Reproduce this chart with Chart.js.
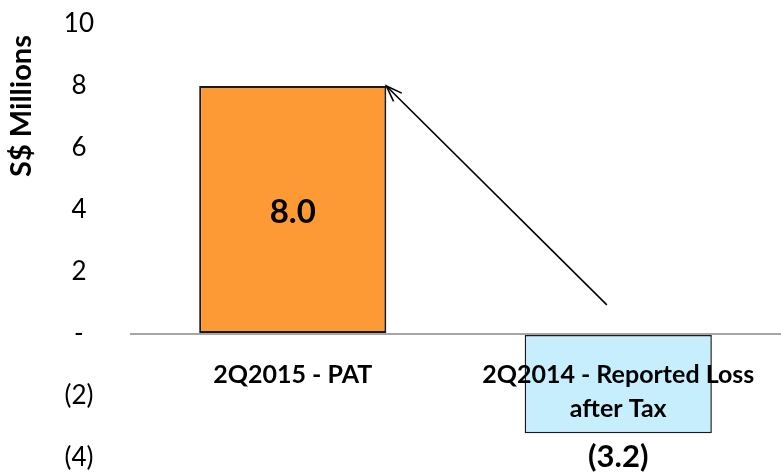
<!DOCTYPE html>
<html>
<head>
<meta charset="utf-8">
<script src="https://cdn.jsdelivr.net/npm/chart.js@4"></script>
<style>
  html, body { margin: 0; padding: 0; background: #ffffff; }
  #wrap { width: 781px; height: 475px; position: relative; }
</style>
</head>
<body>
<div id="wrap"><canvas id="chart"></canvas></div>
<script>
const CATEGORIES = [["2Q2015 - PAT"], ["2Q2014 - Reported Loss", "after Tax"]];
const VALUES = [8.0, -3.2];
const VALUE_LABELS = ["8.0", "(3.2)"];
const BAR_COLORS = ["#fd9a36", "#c6eefd"];
const Y_MIN = -4;
const Y_MAX = 10;
const Y_STEP = 2;
const FONT = "Lato, 'Open Sans', sans-serif";

const tickText = (value) => value === 0 ? "-" : value < 0 ? `(${Math.abs(value)})` : `${value}`;

// category labels hang just under the zero line, value labels inside / below bars, plus the arrow
const overlay = {
  id: "overlay",
  afterDatasetsDraw(chart) {
    const { ctx, scales: { x, y } } = chart;
    const zero = y.getPixelForValue(0);
    ctx.save();
    ctx.fillStyle = "#000000";
    ctx.textAlign = "center";
    ctx.textBaseline = "middle";

    ctx.font = `bold 25px ${FONT}`;
    CATEGORIES.forEach((lines, i) => {
      lines.forEach((line, j) => ctx.fillText(line, x.getPixelForValue(i), zero + 41 + j * 34));
    });

    const bars = chart.getDatasetMeta(0).data;
    ctx.font = `bold 33px ${FONT}`;
    ctx.fillText(VALUE_LABELS[0], bars[0].x, (bars[0].y + bars[0].base) / 2 + 3);
    ctx.font = `bold 31px ${FONT}`;
    ctx.fillText(VALUE_LABELS[1], bars[1].x, bars[1].y + 24);

    // arrow from near the loss bar up to the top-right corner of the profit bar
    const head = { x: bars[0].x + bars[0].width / 2, y: bars[0].y };
    const tail = { x: x.getPixelForValue(0.965), y: y.getPixelForValue(0.94) };
    const ang = Math.atan2(head.y - tail.y, head.x - tail.x);
    ctx.strokeStyle = "#000000";
    ctx.lineWidth = 1.6;
    ctx.beginPath();
    ctx.moveTo(tail.x, tail.y);
    ctx.lineTo(head.x, head.y);
    ctx.stroke();
    ctx.beginPath();
    ctx.moveTo(head.x - 17 * Math.cos(ang - 0.35), head.y - 17 * Math.sin(ang - 0.35));
    ctx.lineTo(head.x, head.y);
    ctx.lineTo(head.x - 17 * Math.cos(ang + 0.35), head.y - 17 * Math.sin(ang + 0.35));
    ctx.stroke();

    // rotated axis title sits high, not centred on the axis
    ctx.font = `bold 29px ${FONT}`;
    ctx.translate(22, 106);
    ctx.rotate(-Math.PI / 2);
    ctx.fillText("S$ Millions", 0, 0);
    ctx.restore();
  },
};

new Chart(document.getElementById("chart"), {
  type: "bar",
  data: {
    labels: CATEGORIES.map((lines) => lines.join(" ")),
    datasets: [{
      data: VALUES,
      backgroundColor: BAR_COLORS,
      borderColor: ["#1a1a1a", "#1a1a1a"],
      borderWidth: [2, 1.5],
      borderSkipped: false,
      categoryPercentage: 1,
      barPercentage: 0.575,
    }],
  },
  options: {
    responsive: true,
    maintainAspectRatio: false,
    animation: false,
    layout: { padding: { top: 24, bottom: 17, right: 0, left: 0 } },
    plugins: { legend: { display: false }, tooltip: { enabled: false } },
    scales: {
      x: { display: false },
      y: {
        min: Y_MIN,
        max: Y_MAX,
        afterFit: (scale) => {
          scale.width = 130;
          scale.paddingTop = 0;
          scale.paddingBottom = 0;
        },
        border: { display: false },
        grid: {
          drawTicks: false,
          color: (c) => c.tick.value === 0 ? "#a6a6a6" : "transparent",
          lineWidth: (c) => c.tick.value === 0 ? 2 : 0,
        },
        ticks: {
          stepSize: Y_STEP,
          padding: 36,
          crossAlign: "center",
          color: "#000000",
          font: { family: FONT, size: 26 },
          callback: (value) => tickText(value),
        },
      },
    },
  },
  plugins: [overlay],
});
</script>
</body>
</html>
